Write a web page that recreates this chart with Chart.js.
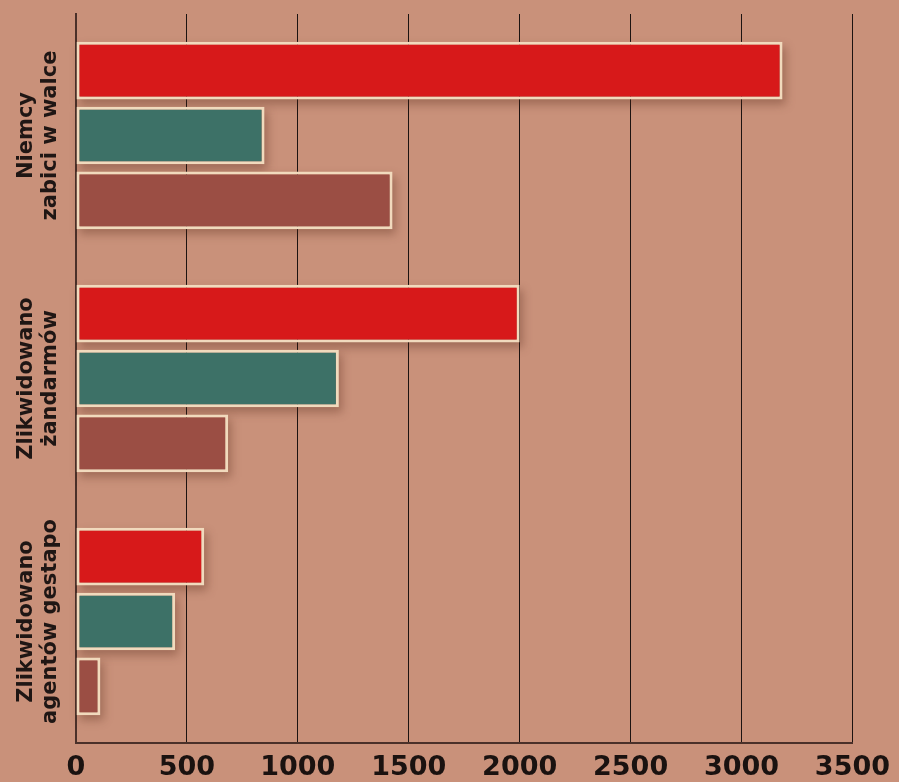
<!DOCTYPE html>
<html>
<head>
<meta charset="utf-8">
<script src="https://cdn.jsdelivr.net/npm/chart.js@4.4.1/dist/chart.umd.min.js"></script>
<style>
  html, body { margin: 0; padding: 0; background: #c9917a; }
  #wrap { width: 899px; height: 782px; }
</style>
</head>
<body>
<div id="wrap"><canvas id="chart" width="899" height="782"></canvas></div>
<script>
const categories = [
  ['Niemcy', 'zabici w walce'],
  ['Zlikwidowano', 'żandarmów'],
  ['Zlikwidowano', 'agentów gestapo'],
];
const redValues = [3185, 2000, 578];
const tealValues = [850, 1185, 447];
const brownValues = [1427, 686, 110];
const xTicks = [0, 500, 1000, 1500, 2000, 2500, 3000, 3500];

// background fill
const bgPlugin = {
  id: 'bg',
  beforeDraw(chart) {
    const ctx = chart.ctx;
    ctx.save();
    ctx.fillStyle = '#c9917a';
    ctx.fillRect(0, 0, chart.width, chart.height);
    ctx.restore();
  },
};

// soft shadow under the bars (bar element clips itself, so draw it first)
const shadowPlugin = {
  id: 'barShadow',
  beforeDatasetsDraw(chart) {
    const ctx = chart.ctx;
    ctx.save();
    ctx.fillStyle = 'rgba(80, 35, 20, 0.35)';
    ctx.filter = 'blur(5px)';
    chart.data.datasets.forEach((ds, i) => {
      chart.getDatasetMeta(i).data.forEach(bar => {
        const { x, y, base, height } = bar.getProps(['x', 'y', 'base', 'height'], true);
        ctx.fillRect(base + 3, y - height / 2 + 5, x - base, height);
      });
    });
    ctx.restore();
  },
};

// rotated two-line category labels
const yLabelPlugin = {
  id: 'yLabels',
  afterDraw(chart) {
    const ctx = chart.ctx;
    const y = chart.scales.y;
    ctx.save();
    ctx.fillStyle = '#1f1614';
    ctx.font = 'bold 21px "DejaVu Sans"';
    ctx.textAlign = 'center';
    ctx.textBaseline = 'alphabetic';
    categories.forEach((lines, i) => {
      const py = y.getPixelForValue(i);
      ctx.save();
      ctx.translate(0, py);
      ctx.rotate(-Math.PI / 2);
      lines.forEach((line, j) => {
        ctx.fillText(line, 0, 32 + j * 24);
      });
      ctx.restore();
    });
    ctx.restore();
  },
};

const barStyle = {
  borderColor: '#f1dabd',
  borderWidth: 3,
  borderSkipped: false,
  categoryPercentage: 0.8,
  barPercentage: 0.89,
};

new Chart(document.getElementById('chart').getContext('2d'), {
  type: 'bar',
  data: {
    labels: categories,
    datasets: [
      { label: 'Seria 1', data: redValues, backgroundColor: '#d7191a', ...barStyle },
      { label: 'Seria 2', data: tealValues, backgroundColor: '#3d7167', ...barStyle },
      { label: 'Seria 3', data: brownValues, backgroundColor: '#9b4e44', ...barStyle },
    ],
  },
  options: {
    responsive: false,
    animation: false,
    indexAxis: 'y',
    layout: { padding: { top: 14, right: 45, left: 0, bottom: 0 } },
    plugins: {
      legend: { display: false },
      tooltip: { enabled: false },
    },
    scales: {
      x: {
        min: 0,
        max: 3500,
        z: 1,
        afterBuildTicks(scale) {
          scale.ticks = xTicks.map(v => ({ value: v }));
        },
        afterFit(scale) {
          scale.height = 39;
        },
        grid: {
          color: '#1c1311',
          lineWidth: 1,
          drawTicks: false,
        },
        border: { color: '#4a3029', width: 2 },
        ticks: {
          padding: 9,
          color: '#1a1210',
          font: { family: '"DejaVu Sans"', size: 27, weight: 'bold' },
          callback: (v) => String(v),
        },
      },
      y: {
        grid: { display: false, drawTicks: false },
        border: { color: '#4a3029', width: 2 },
        ticks: { display: false },
        afterFit(scale) {
          scale.width = 76;
        },
      },
    },
  },
  plugins: [bgPlugin, shadowPlugin, yLabelPlugin],
});
</script>
</body>
</html>
